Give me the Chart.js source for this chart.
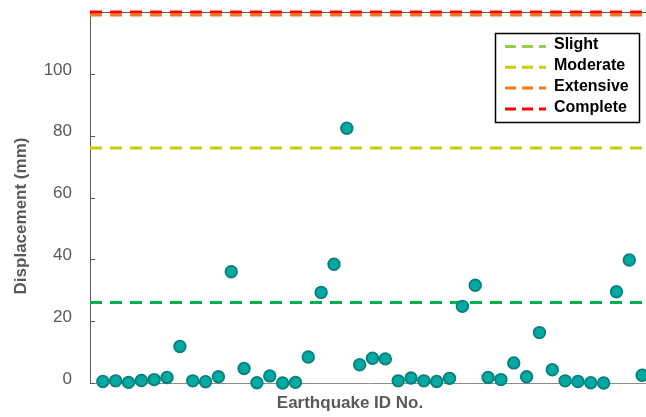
<!DOCTYPE html>
<html><head><meta charset="utf-8">
<script src="https://cdn.jsdelivr.net/npm/chart.js@4"></script>
<style>html,body{margin:0;padding:0;background:#fff;overflow:hidden}#wrap{width:646px;height:417px}</style>
</head><body><div id="wrap"><canvas id="c" width="646" height="417"></canvas></div>
<script>
const earthquakeIds = [1,2,3,4,5,6,7,8,9,10,11,12,13,14,15,16,17,18,19,20,21,22,23,24,25,26,27,28,29,30,31,32,33,34,35,36,37,38,39,40,41,42,43];
const displacement = [0.5,0.7,0.2,0.8,1.1,1.8,11.8,0.7,0.4,2.0,36.0,4.7,0.1,2.3,0,0.2,8.4,29.3,38.4,82.4,5.9,8.0,7.8,0.7,1.6,0.7,0.5,1.5,24.8,31.6,1.8,1.1,6.5,2.0,16.3,4.3,0.7,0.5,0.1,0,29.5,39.8,2.5];
const thresholdLabels = ['Slight','Moderate','Extensive','Complete'];
const thresholdValues = [26, 76, 119, 120];
const yTickValues = [0,20,40,60,80,100];
const xTitle = 'Earthquake ID No.';
const yTitle = 'Displacement (mm)';

const lineColors = ['#00B050','#CCCC00','#F07C1F','#FF0000'];
const legendColors = ['#92D050','#CCCC00','#F07C1F','#FF0000'];
const X_MAX = 43.3;
const FONT = "'Liberation Sans', Arial, sans-serif";
const AXIS_GRAY = '#595959';

const datasets = [{
  label: 'Displacement',
  data: earthquakeIds.map((id,i)=>({x:id,y:displacement[i]})),
  backgroundColor: '#00AAA3',
  borderColor: '#087F7B',
  borderWidth: 1.8,
  pointRadius: 5.8,
  clip: false,
  order: 0
}];
thresholdLabels.forEach((lab,i)=>{
  datasets.push({
    label: lab,
    type: 'line',
    data: [{x:0,y:thresholdValues[i]},{x:X_MAX,y:thresholdValues[i]}],
    borderColor: lineColors[i],
    borderWidth: 3,
    borderDash: [12,8],
    pointRadius: 0,
    fill: false,
    clip: false,
    order: 4 - i
  });
});

const decor = {
  id: 'decor',
  beforeDatasetsDraw(chart){
    const {ctx, chartArea:a, scales:{y}} = chart;
    ctx.save();
    ctx.strokeStyle = AXIS_GRAY;
    ctx.lineWidth = 1;
    ctx.beginPath();
    ctx.moveTo(a.left, a.top + 0.5);
    ctx.lineTo(a.right, a.top + 0.5);
    yTickValues.forEach(v=>{
      const py = Math.round(y.getPixelForValue(v)) + 0.5;
      ctx.moveTo(a.left, py);
      ctx.lineTo(a.left + 5, py);
    });
    ctx.stroke();
    ctx.restore();
  },
  afterDraw(chart){
    const {ctx} = chart;
    ctx.save();
    ctx.fillStyle = AXIS_GRAY;
    ctx.font = "bold 17px " + FONT;
    ctx.textAlign = 'center';
    ctx.textBaseline = 'middle';
    ctx.fillText(xTitle, 350, 403);
    ctx.translate(21, 216);
    ctx.rotate(-Math.PI/2);
    ctx.fillText(yTitle, 0, 0);
    ctx.restore();
    ctx.save();
    const bx = 495.5, by = 33.5, bw = 144, bh = 89;
    ctx.fillStyle = '#fff';
    ctx.fillRect(bx, by, bw, bh);
    ctx.strokeStyle = '#000';
    ctx.lineWidth = 1.5;
    ctx.strokeRect(bx, by, bw, bh);
    ctx.font = "bold 16px " + FONT;
    ctx.textAlign = 'left';
    ctx.textBaseline = 'middle';
    thresholdLabels.forEach((lab,i)=>{
      const ly = 46.5 + i*20.8;
      ctx.strokeStyle = legendColors[i];
      ctx.lineWidth = 3;
      ctx.setLineDash([11,6]);
      ctx.beginPath();
      ctx.moveTo(505, ly);
      ctx.lineTo(546, ly);
      ctx.stroke();
      ctx.setLineDash([]);
      ctx.fillStyle = '#000';
      ctx.fillText(lab, 554, ly - 1.5);
    });
    ctx.restore();
  }
};

new Chart(document.getElementById('c'), {
  type: 'scatter',
  data: { datasets },
  plugins: [decor],
  options: {
    responsive: false,
    animation: false,
    devicePixelRatio: 1,
    layout: { autoPadding: false, padding: { left: 0, top: 12, right: 0, bottom: 0 } },
    plugins: { legend: { display: false }, tooltip: { enabled: false } },
    scales: {
      x: {
        type: 'linear', min: 0, max: X_MAX,
        ticks: { display: false },
        grid: { display: false, drawTicks: false },
        border: { display: true, color: '#8C8C8C', width: 1 },
        afterFit(s){ s.height = 34; s.paddingLeft = 0; s.paddingRight = 0; }
      },
      y: {
        type: 'linear', min: 0, max: 120,
        afterBuildTicks(s){ s.ticks = yTickValues.map(v=>({value:v})); },
        ticks: { color: AXIS_GRAY, font: { family: FONT, size: 17 }, padding: 18, labelOffset: -4 },
        grid: { display: false, drawTicks: false },
        border: { display: true, color: AXIS_GRAY, width: 1 },
        afterFit(s){ s.width = 90; s.paddingTop = 0; s.paddingBottom = 0; }
      }
    }
  }
});
</script></body></html>
